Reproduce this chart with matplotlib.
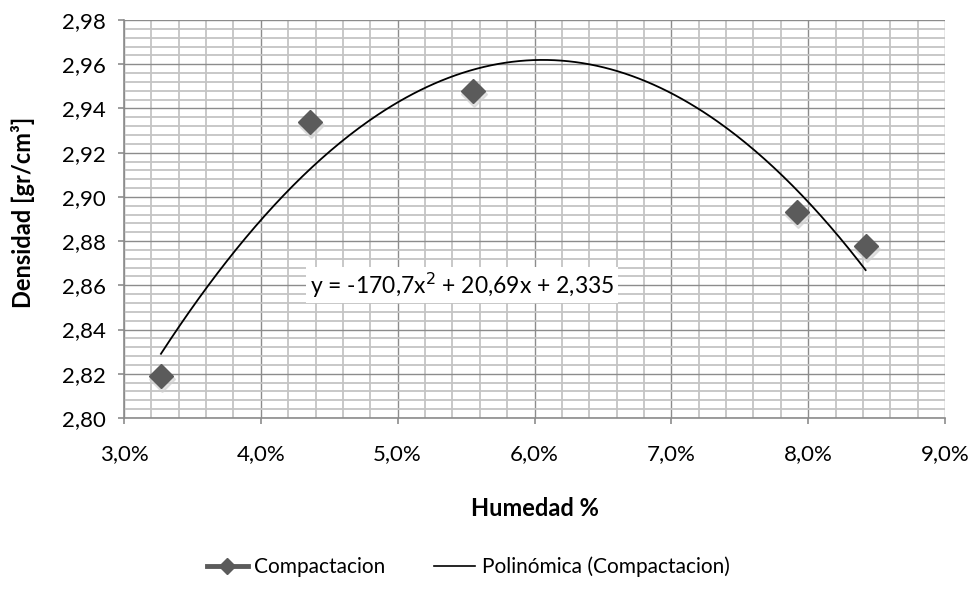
import matplotlib
matplotlib.use("Agg")
import matplotlib.pyplot as plt
import matplotlib.transforms as mtrans
import numpy as np
from matplotlib.ticker import MultipleLocator, FuncFormatter
from matplotlib.lines import Line2D

plt.rcParams['font.family'] = ['Lato', 'DejaVu Sans']

humedad = [0.0327, 0.0436, 0.0555, 0.0792, 0.0842]
densidad = [2.819, 2.934, 2.948, 2.893, 2.878]
coef = [-170.7, 20.69, 2.335]
x_ticks = [0.03, 0.04, 0.05, 0.06, 0.07, 0.08, 0.09]
y_ticks = [2.80, 2.82, 2.84, 2.86, 2.88, 2.90, 2.92, 2.94, 2.96, 2.98]
series_name = "Compactacion"
trend_name = "Polinómica (Compactacion)"
equation = "y = -170,7x$^2$ + 20,69x + 2,335"

fig = plt.figure(figsize=(9.77, 5.93), dpi=100)
ax = fig.add_axes([124/977, 1-418/593, (945-124)/977, (418-20)/593])

ax.set_xlim(x_ticks[0], x_ticks[-1])
ax.set_ylim(y_ticks[0], y_ticks[-1])
ax.set_xticks(x_ticks)
ax.set_yticks(y_ticks)
ax.xaxis.set_minor_locator(MultipleLocator(0.002))
ax.yaxis.set_minor_locator(MultipleLocator(0.004))
ax.xaxis.set_major_formatter(FuncFormatter(lambda v, p: f"{v*100:.1f}%".replace('.', ',')))
ax.yaxis.set_major_formatter(FuncFormatter(lambda v, p: f"{v:.2f}".replace('.', ',')))

ax.grid(which='minor', color='#c4c4c4', linewidth=1.3)
ax.grid(which='major', color='#8c8c8c', linewidth=1.0)
ax.set_axisbelow(True)
for s in ['top', 'right']:
    ax.spines[s].set_visible(False)
for s in ['left', 'bottom']:
    ax.spines[s].set_color('#8c8c8c')
    ax.spines[s].set_linewidth(1.2)
ax.tick_params(which='major', direction='out', length=4, color='#8c8c8c', width=1.2,
               labelsize=16)
ax.tick_params(axis='x', pad=15)
ax.tick_params(axis='y', pad=9)
ax.tick_params(which='minor', length=0)

# shadow
shadow = ax.transData + mtrans.ScaledTranslation(1/100, -3/100, fig.dpi_scale_trans)
ax.plot(humedad, densidad, linestyle='none', marker='D', markersize=13.5,
        color='#d0d0d0', alpha=0.6, transform=shadow, zorder=3)
ax.plot(humedad, densidad, linestyle='none', marker='D', markersize=12,
        color='#5b5b5b', zorder=4)

xs = np.linspace(min(humedad), max(humedad), 300)
ys = np.polyval(coef, xs)
ax.plot(xs, ys, color='black', linewidth=1.3, zorder=5)

ax.text(0.0547, 2.8601, equation, fontsize=16.5, ha='center', va='center',
        bbox=dict(facecolor='white', edgecolor='none', pad=2.5), zorder=6)

fig.text(535/977, 1-509/593, "Humedad %", fontsize=17, fontweight='bold',
         ha='center', va='center')
fig.text(23/977, 1-212/593, "Densidad [gr/cm³]", fontsize=17, fontweight='bold',
         ha='center', va='center', rotation=90)

handles = [Line2D([0], [0], color='#5b5b5b', linewidth=3.5, marker='D', markersize=8.5),
           Line2D([0], [0], color='black', linewidth=1.2)]
fig.legend(handles, [series_name, trend_name], loc='center', bbox_to_anchor=(468/977, 1-567/593),
           ncol=2, frameon=False, fontsize=15, handlelength=2.0, columnspacing=2.3, handletextpad=0.3)

fig.savefig("out.png", dpi=100)
